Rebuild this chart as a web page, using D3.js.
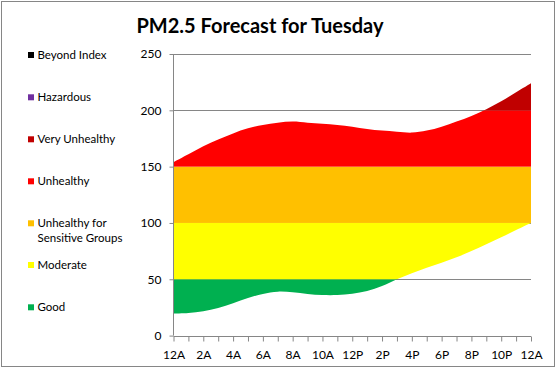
<!DOCTYPE html>
<html>
<head>
<meta charset="utf-8">
<script src="https://cdn.jsdelivr.net/npm/d3@7"></script>
<style>
  html, body { margin: 0; padding: 0; background: #fff; }
  svg { display: block; }
  text { font-family: Lato, "Liberation Sans", sans-serif; fill: #000; }
</style>
</head>
<body>
<svg id="chart" width="557" height="370"></svg>
<script>
// ---- Data ----
const hours = d3.range(0, 25); // 12A .. 12A (next day)
const tickLabels = ["12A","2A","4A","6A","8A","10A","12P","2P","4P","6P","8P","10P","12A"];
const forecastHigh = [154, 161, 168, 174, 179.5, 184, 187, 189, 190, 189, 188, 187, 185.5, 183.5, 182, 181, 180.2, 182, 185.5, 190, 195, 201, 208, 216, 224];
const forecastLow  = [19.5, 20, 21.6, 24.5, 28.7, 33.4, 37, 39, 38.5, 37, 36, 36, 37.2, 39.6, 44, 50, 55.3, 60.3, 64.7, 69.5, 75, 81, 87.3, 93.8, 100];
const bandNames  = ["Good","Moderate","Unhealthy for Sensitive Groups","Unhealthy","Very Unhealthy","Hazardous","Beyond Index"];
const bandLow    = [0, 50, 100, 150, 200, 300, 500];
const bandHigh   = [50, 100, 150, 200, 300, 500, 1000];
const bandColors = ["#00B050","#FFFF00","#FFC000","#FF0000","#C00000","#7030A0","#000000"];
const yTicks = [0, 50, 100, 150, 200, 250];
const title = "PM2.5 Forecast for Tuesday";

// ---- Layout ----
const svg = d3.select("#chart");
const plot = { left: 173.5, right: 531, top: 54, bottom: 335.6 };

const x = d3.scaleLinear().domain([0, 24]).range([plot.left, plot.right]);
const y = d3.scaleLinear().domain([0, 250]).range([plot.bottom, plot.top]);

// outer border
svg.append("rect").attr("x", 1.5).attr("y", 1.5).attr("width", 553).attr("height", 365)
  .attr("fill", "#fff").attr("stroke", "#868686").attr("stroke-width", 1);

// title
svg.append("text").attr("x", 260).attr("y", 33).attr("text-anchor", "middle")
  .style("font-size", "20px").style("font-weight", "bold").text(title);

// gridlines
svg.append("g").selectAll("line").data(yTicks.filter(d => d > 0)).join("line")
  .attr("x1", plot.left).attr("x2", plot.right)
  .attr("y1", d => Math.round(y(d)) + 0.5).attr("y2", d => Math.round(y(d)) + 0.5)
  .attr("stroke", "#868686").attr("stroke-width", 1);

// clipped bands
const curve = d3.curveCatmullRom.alpha(0.5);
const area = d3.area()
  .x((d, i) => x(hours[i]))
  .y0((d, i) => y(forecastLow[i]))
  .y1((d, i) => y(forecastHigh[i]))
  .curve(curve);

svg.append("clipPath").attr("id", "fcClip")
  .append("path").attr("d", area(hours));

svg.append("g").attr("clip-path", "url(#fcClip)")
  .selectAll("rect").data(bandNames).join("rect")
  .attr("x", plot.left).attr("width", plot.right - plot.left)
  .attr("y", (d, i) => y(Math.min(bandHigh[i], 400)))
  .attr("height", (d, i) => y(bandLow[i]) - y(Math.min(bandHigh[i], 400)))
  .attr("fill", (d, i) => bandColors[i]);

// y axis
const yAxis = d3.axisLeft(y).tickValues(yTicks).tickSize(4).tickPadding(8).tickFormat(d3.format("d"));
const gy = svg.append("g").attr("transform", `translate(${Math.round(plot.left) - 0.5},0)`).call(yAxis);
gy.select(".domain").attr("stroke", "#868686").attr("d", `M0,${plot.top}V${plot.bottom}`);
gy.selectAll(".tick line").attr("stroke", "#868686");
gy.selectAll(".tick text").style("font-size", "12px").style("font-family", "Lato, sans-serif").attr("fill", "#000");

// x axis
const xAxis = d3.axisBottom(x).tickValues(hours).tickSize(5).tickPadding(9)
  .tickFormat((d) => d % 2 === 0 ? tickLabels[d / 2] : "");
const gx = svg.append("g").attr("transform", `translate(0,${Math.round(plot.bottom) + 0.5})`).call(xAxis);
gx.select(".domain").attr("stroke", "#868686").attr("d", `M${plot.left},0H${plot.right}`);
gx.selectAll(".tick line").attr("stroke", "#868686");
gx.selectAll(".tick text").style("font-size", "12px").style("font-family", "Lato, sans-serif").attr("fill", "#000");

// legend (top to bottom: highest band first)
const legendY = [55, 97.3, 139.3, 181.3, 223.3, 265, 307.3];
const legendOrder = d3.range(bandNames.length).reverse();
const lg = svg.append("g");
legendOrder.forEach((bi, k) => {
  const cy = legendY[k];
  lg.append("rect").attr("x", 28).attr("y", cy - 3).attr("width", 6).attr("height", 6).attr("fill", bandColors[bi]);
  const t = lg.append("text").attr("x", 37.5).attr("y", cy + 4).style("font-size", "11.5px");
  if (bandNames[bi] === "Unhealthy for Sensitive Groups") {
    t.append("tspan").attr("x", 37.5).text("Unhealthy for");
    t.append("tspan").attr("x", 37.5).attr("dy", 15).text("Sensitive Groups");
  } else {
    t.text(bandNames[bi]);
  }
});
</script>
</body>
</html>
